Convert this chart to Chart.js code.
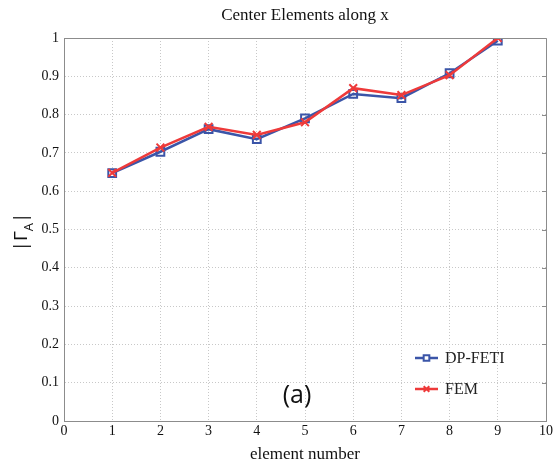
<!DOCTYPE html>
<html>
<head>
<meta charset="utf-8">
<script src="https://cdn.jsdelivr.net/npm/chart.js@4"></script>
<style>
  html, body { margin: 0; padding: 0; background: #fff; }
  #wrap { width: 558px; height: 468px; }
</style>
</head>
<body>
<div id="wrap"><canvas id="chart" width="558" height="468"></canvas></div>
<script>
// element numbers along x
const elements = [1, 2, 3, 4, 5, 6, 7, 8, 9];
const dpFeti = [0.647, 0.703, 0.762, 0.736, 0.790, 0.854, 0.843, 0.908, 0.993];
const fem = [0.648, 0.714, 0.768, 0.747, 0.780, 0.869, 0.851, 0.903, 1.0];
const xTicks = [0, 1, 2, 3, 4, 5, 6, 7, 8, 9, 10];
const yTicks = [0, 0.1, 0.2, 0.3, 0.4, 0.5, 0.6, 0.7, 0.8, 0.9, 1];

const serif = "'Liberation Serif', 'DejaVu Serif', serif";
const sans = "'Open Sans', 'Liberation Sans', sans-serif";

const blue = "#3b55a8";
const red = "#ee3a3a";

// title, axis labels, frame, legend and the "(a)" tag
const extras = {
    id: "extras",
    afterDraw(chart) {
        const { ctx, chartArea: a } = chart;
        ctx.save();
        // frame top / right with small inner ticks
        ctx.strokeStyle = "#8c8c8c";
        ctx.lineWidth = 1;
        ctx.beginPath();
        ctx.moveTo(a.left, a.top + 0.5);
        ctx.lineTo(a.right + 0.5, a.top + 0.5);
        ctx.lineTo(a.right + 0.5, a.bottom);
        ctx.stroke();
        const ys = chart.scales.y;
        yTicks.forEach(v => {
            const py = Math.round(ys.getPixelForValue(v)) + 0.5;
            ctx.beginPath();
            ctx.moveTo(a.right - 4, py);
            ctx.lineTo(a.right, py);
            ctx.stroke();
        });

        ctx.fillStyle = "#111";
        ctx.textAlign = "center";
        ctx.textBaseline = "middle";
        ctx.font = "17px " + serif;
        ctx.fillText("Center Elements along x", (a.left + a.right) / 2, 16);
        ctx.fillText("element number", (a.left + a.right) / 2, 455);

        // y label |Γ_A|
        ctx.save();
        ctx.translate(22, 232);
        ctx.rotate(-Math.PI / 2);
        ctx.font = "19px " + sans;
        ctx.textAlign = "left";
        const s1 = "|Γ";
        const w1 = ctx.measureText(s1).width;
        ctx.font = "13px " + sans;
        const w2 = ctx.measureText("A").width;
        ctx.font = "19px " + sans;
        const w3 = ctx.measureText("|").width;
        const x0 = -(w1 + w2 + w3) / 2;
        ctx.fillText(s1, x0, 0);
        ctx.font = "13px " + sans;
        ctx.fillText("A", x0 + w1, 7);
        ctx.font = "19px " + sans;
        ctx.fillText("|", x0 + w1 + w2, 0);
        ctx.restore();

        // "(a)"
        ctx.font = "25px " + sans;
        ctx.textAlign = "center";
        ctx.fillText("(a)", 297, 396);

        // legend
        const items = [
            { label: "DP-FETI", color: blue, style: "rect" },
            { label: "FEM", color: red, style: "crossRot" }
        ];
        items.forEach((it, i) => {
            const ly = 358 + i * 31;
            ctx.strokeStyle = it.color;
            ctx.lineWidth = 2.5;
            ctx.beginPath();
            ctx.moveTo(415, ly);
            ctx.lineTo(438, ly);
            ctx.stroke();
            ctx.fillStyle = "#fff";
            ctx.lineWidth = 2;
            Chart.helpers.drawPoint(ctx, { pointStyle: it.style, radius: 4, rotation: 0, borderWidth: 2 }, 426.5, ly);
            ctx.fillStyle = "#222";
            ctx.font = "16px " + serif;
            ctx.textAlign = "left";
            ctx.fillText(it.label, 445, ly + 1);
        });
        ctx.restore();
    }
};

new Chart(document.getElementById("chart"), {
    type: "line",
    data: {
        datasets: [
            {
                label: "DP-FETI",
                data: elements.map((x, i) => ({ x: x, y: dpFeti[i] })),
                borderColor: blue,
                backgroundColor: "rgba(255,255,255,0)",
                borderWidth: 2.5,
                pointStyle: "rect",
                pointRadius: 5.5,
                pointBorderWidth: 2,
                pointBorderColor: blue,
                pointBackgroundColor: "rgba(255,255,255,0)",
                tension: 0,
                order: 1
            },
            {
                label: "FEM",
                data: elements.map((x, i) => ({ x: x, y: fem[i] })),
                borderColor: red,
                backgroundColor: red,
                borderWidth: 2.5,
                pointStyle: "crossRot",
                pointRadius: 5.5,
                pointBorderWidth: 2,
                pointBorderColor: red,
                tension: 0,
                order: 0
            }
        ]
    },
    options: {
        responsive: false,
        animation: false,
        layout: { padding: { top: 38, right: 12, left: 0, bottom: 0 } },
        plugins: {
            legend: { display: false },
            title: { display: false },
            tooltip: { enabled: false }
        },
        scales: {
            x: {
                type: "linear",
                min: 0,
                max: 10,
                afterFit(s) { s.height = 47; },
                afterBuildTicks(s) { s.ticks = xTicks.map(v => ({ value: v })); },
                ticks: { color: "#111", font: { family: serif, size: 14 }, padding: 2, maxRotation: 0 },
                grid: { color: "#c8c8c8", drawTicks: false },
                border: { color: "#8c8c8c", dash: [1, 2] }
            },
            y: {
                min: 0,
                max: 1,
                afterFit(s) { s.width = 64; },
                afterBuildTicks(s) { s.ticks = yTicks.map(v => ({ value: v })); },
                ticks: {
                    color: "#111",
                    font: { family: serif, size: 14 },
                    padding: 5,
                    callback: v => String(Math.round(v * 10) / 10)
                },
                grid: { color: "#c8c8c8", drawTicks: false },
                border: { color: "#8c8c8c", dash: [1, 2] }
            }
        }
    },
    plugins: [extras]
});
</script>
</body>
</html>
